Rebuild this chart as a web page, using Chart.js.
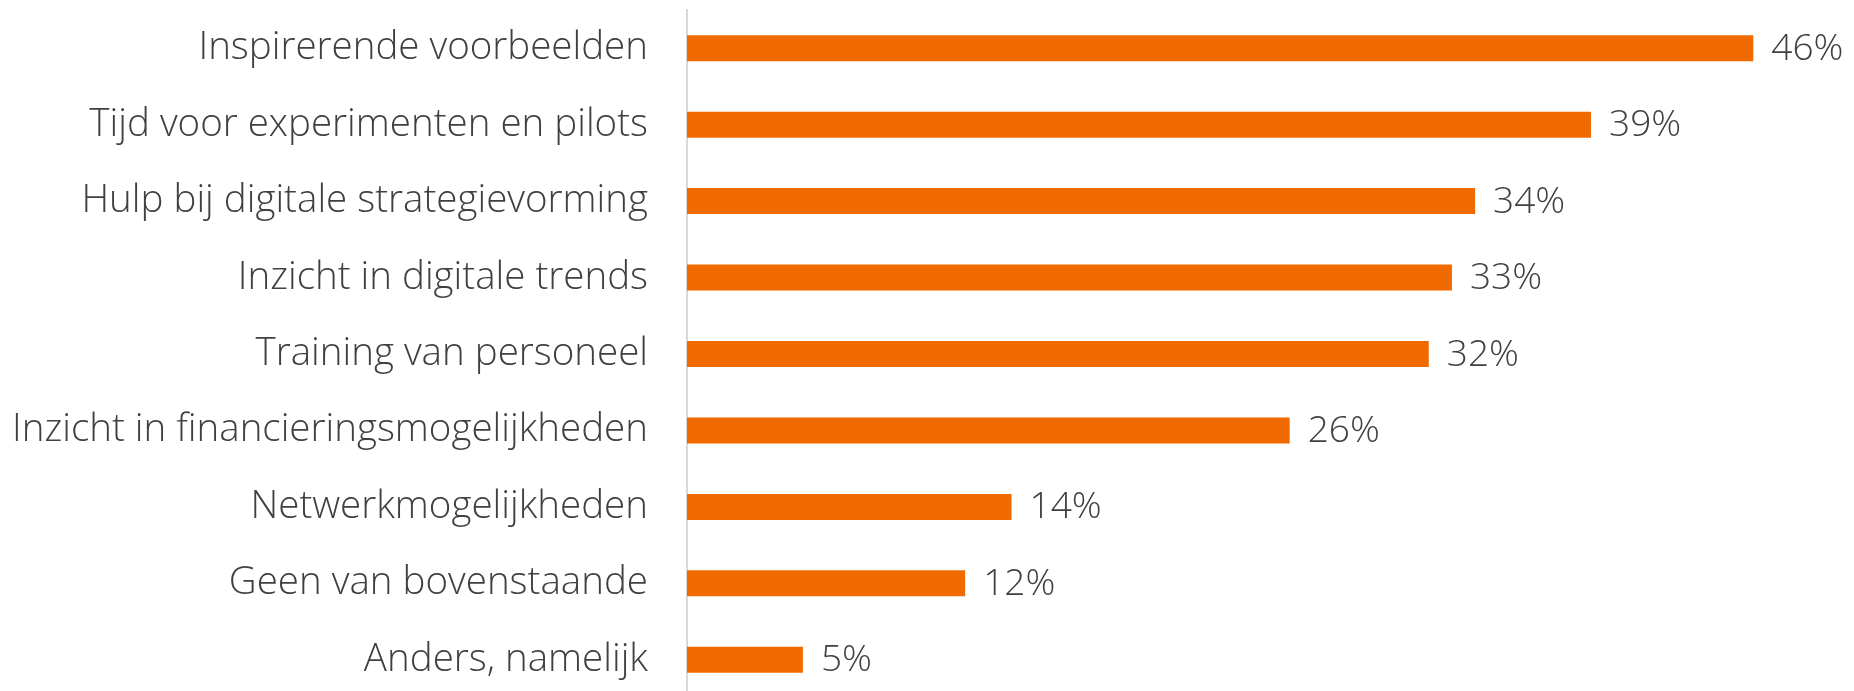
<!DOCTYPE html>
<html>
<head>
<meta charset="utf-8">
<script src="https://cdn.jsdelivr.net/npm/chart.js@4"></script>
<style>
  html, body { margin: 0; padding: 0; background: #fff; overflow: hidden; }
  #wrap { width: 1854px; height: 698px; }
</style>
</head>
<body>
<div id="wrap"><canvas id="chart"></canvas></div>
<script>
const categories = [
    'Inspirerende voorbeelden',
    'Tijd voor experimenten en pilots',
    'Hulp bij digitale strategievorming',
    'Inzicht in digitale trends',
    'Training van personeel',
    'Inzicht in financieringsmogelijkheden',
    'Netwerkmogelijkheden',
    'Geen van bovenstaande',
    'Anders, namelijk'
];
const percentages = [46, 39, 34, 33, 32, 26, 14, 12, 5];

const textColor = '#404040';
const barColor = '#F06A00';
const fontFamily = '"Open Sans", Lato, sans-serif';

// waarde-labels achter de balken
const valueLabels = {
    id: 'valueLabels',
    afterDatasetsDraw(chart) {
        const ctx = chart.ctx;
        const meta = chart.getDatasetMeta(0);
        ctx.save();
        ctx.font = '300 37px ' + fontFamily;
        ctx.fillStyle = textColor;
        ctx.textAlign = 'left';
        ctx.textBaseline = 'middle';
        meta.data.forEach((bar, i) => {
            ctx.fillText(percentages[i] + '%', bar.x + 18, bar.y + 1);
        });
        ctx.restore();
    }
};

new Chart(document.getElementById('chart').getContext('2d'), {
    type: 'bar',
    data: {
        labels: categories,
        datasets: [{
            data: percentages,
            backgroundColor: barColor,
            barPercentage: 0.34,
            categoryPercentage: 1
        }]
    },
    options: {
        indexAxis: 'y',
        responsive: true,
        maintainAspectRatio: false,
        animation: false,
        layout: { padding: { top: 10, right: 8, bottom: 0, left: 0 } },
        plugins: { legend: { display: false }, tooltip: { enabled: false } },
        scales: {
            x: {
                min: 0,
                max: 50,
                display: false,
                grid: { display: false }
            },
            y: {
                afterFit: (scale) => {
                    scale.width = 687;
                    scale.paddingTop = 0;
                    scale.paddingBottom = 0;
                },
                grid: { display: false, drawTicks: false },
                border: { display: true, color: '#D9D9D9', width: 2 },
                ticks: {
                    padding: 39,
                    color: textColor,
                    font: { family: fontFamily, size: 38.5, weight: 300 }
                }
            }
        }
    },
    plugins: [valueLabels]
});
</script>
</body>
</html>
